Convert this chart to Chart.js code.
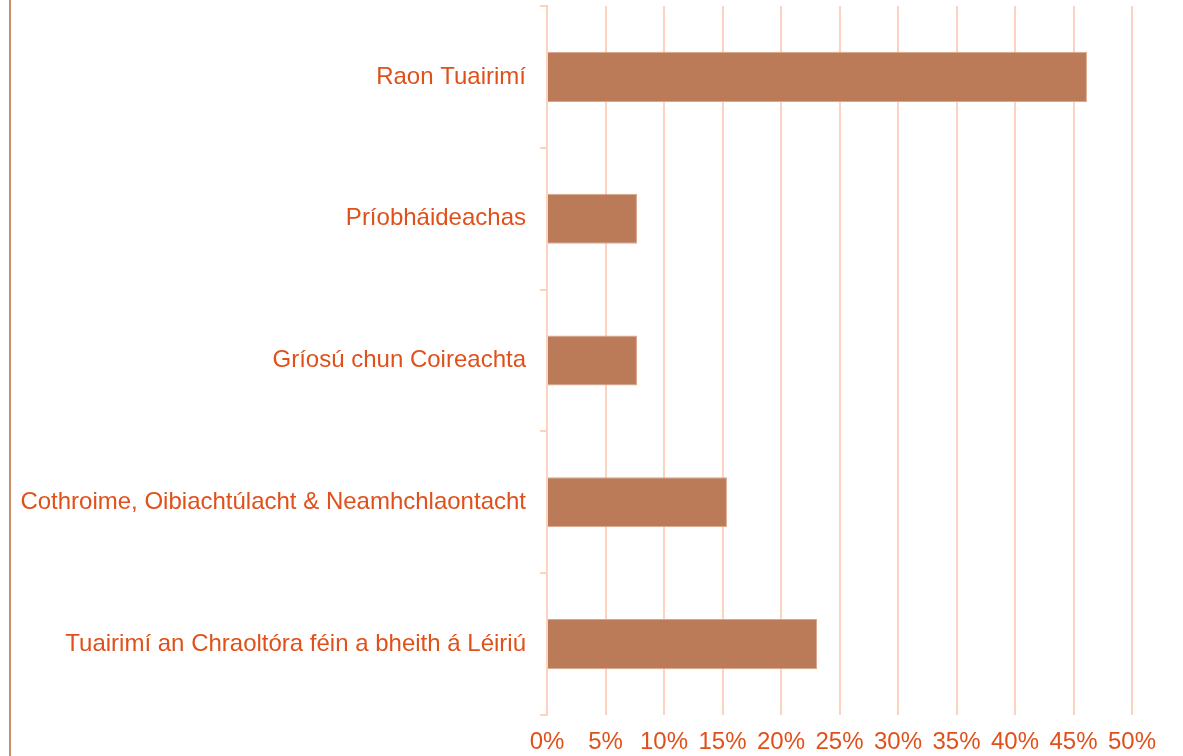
<!DOCTYPE html>
<html lang="ga">
<head>
    <meta charset="UTF-8">
    <title>Raon Tuairimí</title>
    <script src="https://cdn.jsdelivr.net/npm/chart.js"></script>
    <style>
        body {
            margin: 0;
            background: #ffffff;
            font-family: "Liberation Sans", Arial, sans-serif;
        }

        .frame {
            position: relative;
            width: 1183px;
            height: 756px;
            overflow: hidden;
        }

        .frame::before {
            content: "";
            position: absolute;
            left: 9px;
            top: 0;
            width: 2px;
            height: 756px;
            background: #c98f6d;
        }

        canvas {
            display: block;
        }
    </style>
</head>
<body>
    <div class="frame">
        <canvas id="chart" width="1183" height="756"></canvas>
    </div>

    <script>
        const categories = [
            'Raon Tuairimí',
            'Príobháideachas',
            'Gríosú chun Coireachta',
            'Cothroime, Oibiachtúlacht & Neamhchlaontacht',
            'Tuairimí an Chraoltóra féin a bheith á Léiriú'
        ];
        const shares = [46.15, 7.69, 7.69, 15.38, 23.08];
        const tickMin = 0;
        const tickMax = 50;
        const tickStep = 5;

        const textColor = '#e0501a';
        const gridColor = '#fdd3bf';

        new Chart(document.getElementById('chart'), {
            type: 'bar',
            data: {
                labels: categories,
                datasets: [{
                    data: shares,
                    backgroundColor: '#bc7b58',
                    borderColor: '#d9a68b',
                    borderWidth: 1,
                    barPercentage: 0.353,
                    categoryPercentage: 1
                }]
            },
            options: {
                indexAxis: 'y',
                responsive: false,
                animation: false,
                layout: {
                    padding: { top: 6, left: 0, right: 51, bottom: 0 }
                },
                plugins: {
                    legend: { display: false },
                    tooltip: { enabled: false }
                },
                scales: {
                    x: {
                        min: tickMin,
                        max: tickMax,
                        afterFit: scale => { scale.height = 41; },
                        border: { display: false },
                        grid: {
                            color: gridColor,
                            lineWidth: 2,
                            drawTicks: false
                        },
                        ticks: {
                            stepSize: tickStep,
                            padding: 13,
                            color: textColor,
                            font: { family: '"Liberation Sans", Arial', size: 24 },
                            callback: v => v + '%'
                        }
                    },
                    y: {
                        afterFit: scale => {
                            scale.width = 547;
                            scale.paddingTop = 0;
                            scale.paddingBottom = 0;
                        },
                        border: { display: true, color: gridColor, width: 2 },
                        grid: {
                            offset: true,
                            drawOnChartArea: false,
                            drawTicks: true,
                            tickLength: 7,
                            color: gridColor,
                            lineWidth: 2
                        },
                        ticks: {
                            padding: 14,
                            color: textColor,
                            font: { family: '"Liberation Sans", Arial', size: 24 }
                        }
                    }
                }
            }
        });
    </script>
</body>
</html>
